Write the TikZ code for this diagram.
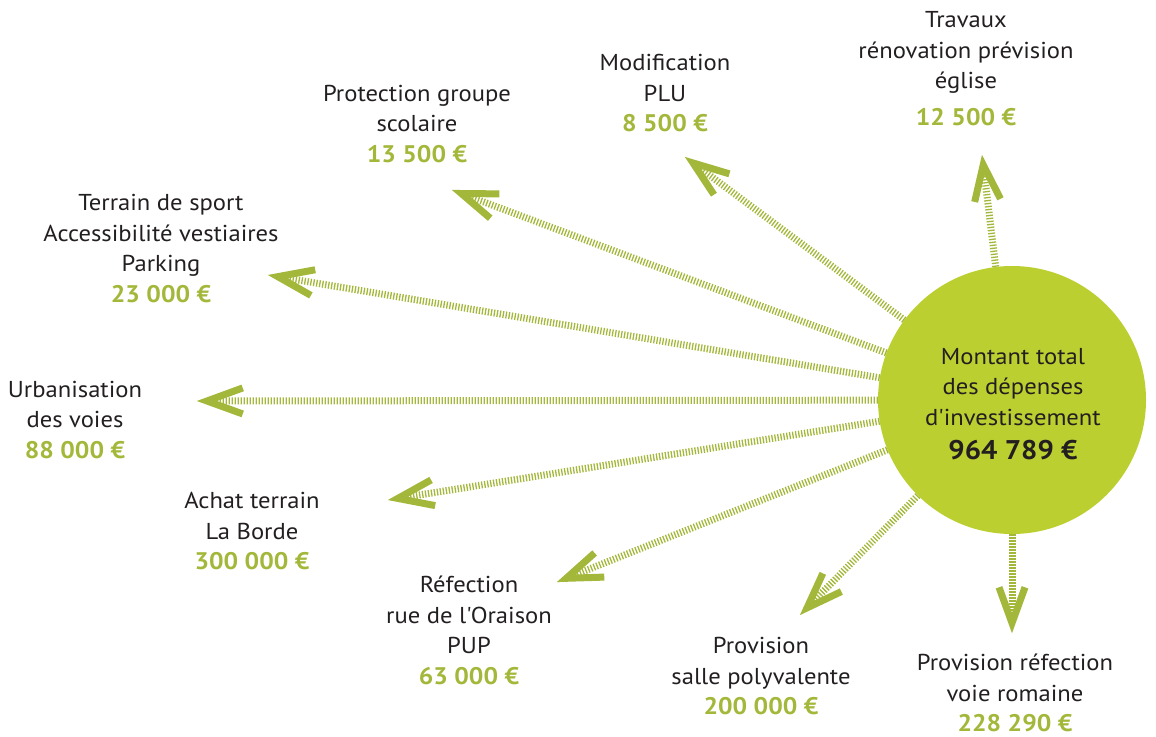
\documentclass[tikz,border=0pt]{standalone}
\usepackage{fontspec}
\setmainfont{PT Sans}[Ligatures=TeXOff, FakeStretch=1.07]
\usetikzlibrary{calc}
\definecolor{hubgreen}{HTML}{BCCF30}
\definecolor{raygreen}{HTML}{A3B83A}
\definecolor{txt}{HTML}{231F20}
\newcommand\amount[1]{{\fontsize{24}{30.5}\selectfont\color{raygreen}\bfseries #1}}
\begin{document}
\begin{tikzpicture}[x=1pt,y=-1pt,
  lbl/.style={align=center, text=txt, inner sep=0pt, font=\fontsize{23}{30.5}\selectfont},
  ray/.style={draw=raygreen, line width=7pt, dash pattern=on 1.3pt off 1.7pt},
  chev/.style={draw=raygreen, line width=7pt, line join=miter, miter limit=10}]
\useasboundingbox (0,0) rectangle (1156,736);
% hub
\node[circle, fill=hubgreen, minimum size=268pt, inner sep=0pt] (hub) at (1012,400) {};
\node[lbl] (hubtext) at (1013,404)
  {Montant total\\des dépenses\\d'investissement\\[4pt]{\fontsize{27}{30.5}\selectfont\bfseries 964 789 €}};
% labels
\node[lbl] (lTrav) at (966,68.5) {Travaux\\rénovation prévision\\église\\[6pt]\amount{12 500 €}};
\node[lbl] (lPLU) at (665,93.5) {Modification\\PLU\\\amount{8 500 €}};
\node[lbl] (lProt) at (417,124) {Protection groupe\\scolaire\\\amount{13 500 €}};
\node[lbl] (lSport) at (161,248.5) {Terrain de sport\\Accessibilité vestiaires\\Parking\\\amount{23 000 €}};
\node[lbl] (lUrb) at (75,420) {Urbanisation\\des voies\\\amount{88 000 €}};
\node[lbl] (lAchat) at (252,531) {Achat terrain\\La Borde\\\amount{300 000 €}};
\node[lbl] (lRef) at (469,630.5) {Réfection\\rue de l'Oraison\\PUP\\\amount{63 000 €}};
\node[lbl] (lSalle) at (761,676.5) {Provision\\salle polyvalente\\\amount{200 000 €}};
\node[lbl] (lVoie) at (1015,693) {Provision réfection\\voie romaine\\\amount{228 290 €}};
% arrow tips
\coordinate (tTrav) at (982,155);
\coordinate (tPLU) at (685,157);
\coordinate (tProt) at (452,190);
\coordinate (tSport) at (268,275);
\coordinate (tUrb) at (197,401);
\coordinate (tAchat) at (388,500);
\coordinate (tRef) at (557,582);
\coordinate (tSalle) at (800,615);
\coordinate (tVoie) at (1012,633);
\foreach \t in {tTrav,tPLU,tProt,tSport,tUrb,tAchat,tRef,tSalle,tVoie}{
  \coordinate (v) at ($(\t)!10pt!(hub.center)$);
  \draw[ray] (hub) -- (v);
  \draw[chev] ($(v)!38pt!20:(hub.center)$) -- (v) -- ($(v)!38pt!-20:(hub.center)$);
}
\end{tikzpicture}
\end{document}
